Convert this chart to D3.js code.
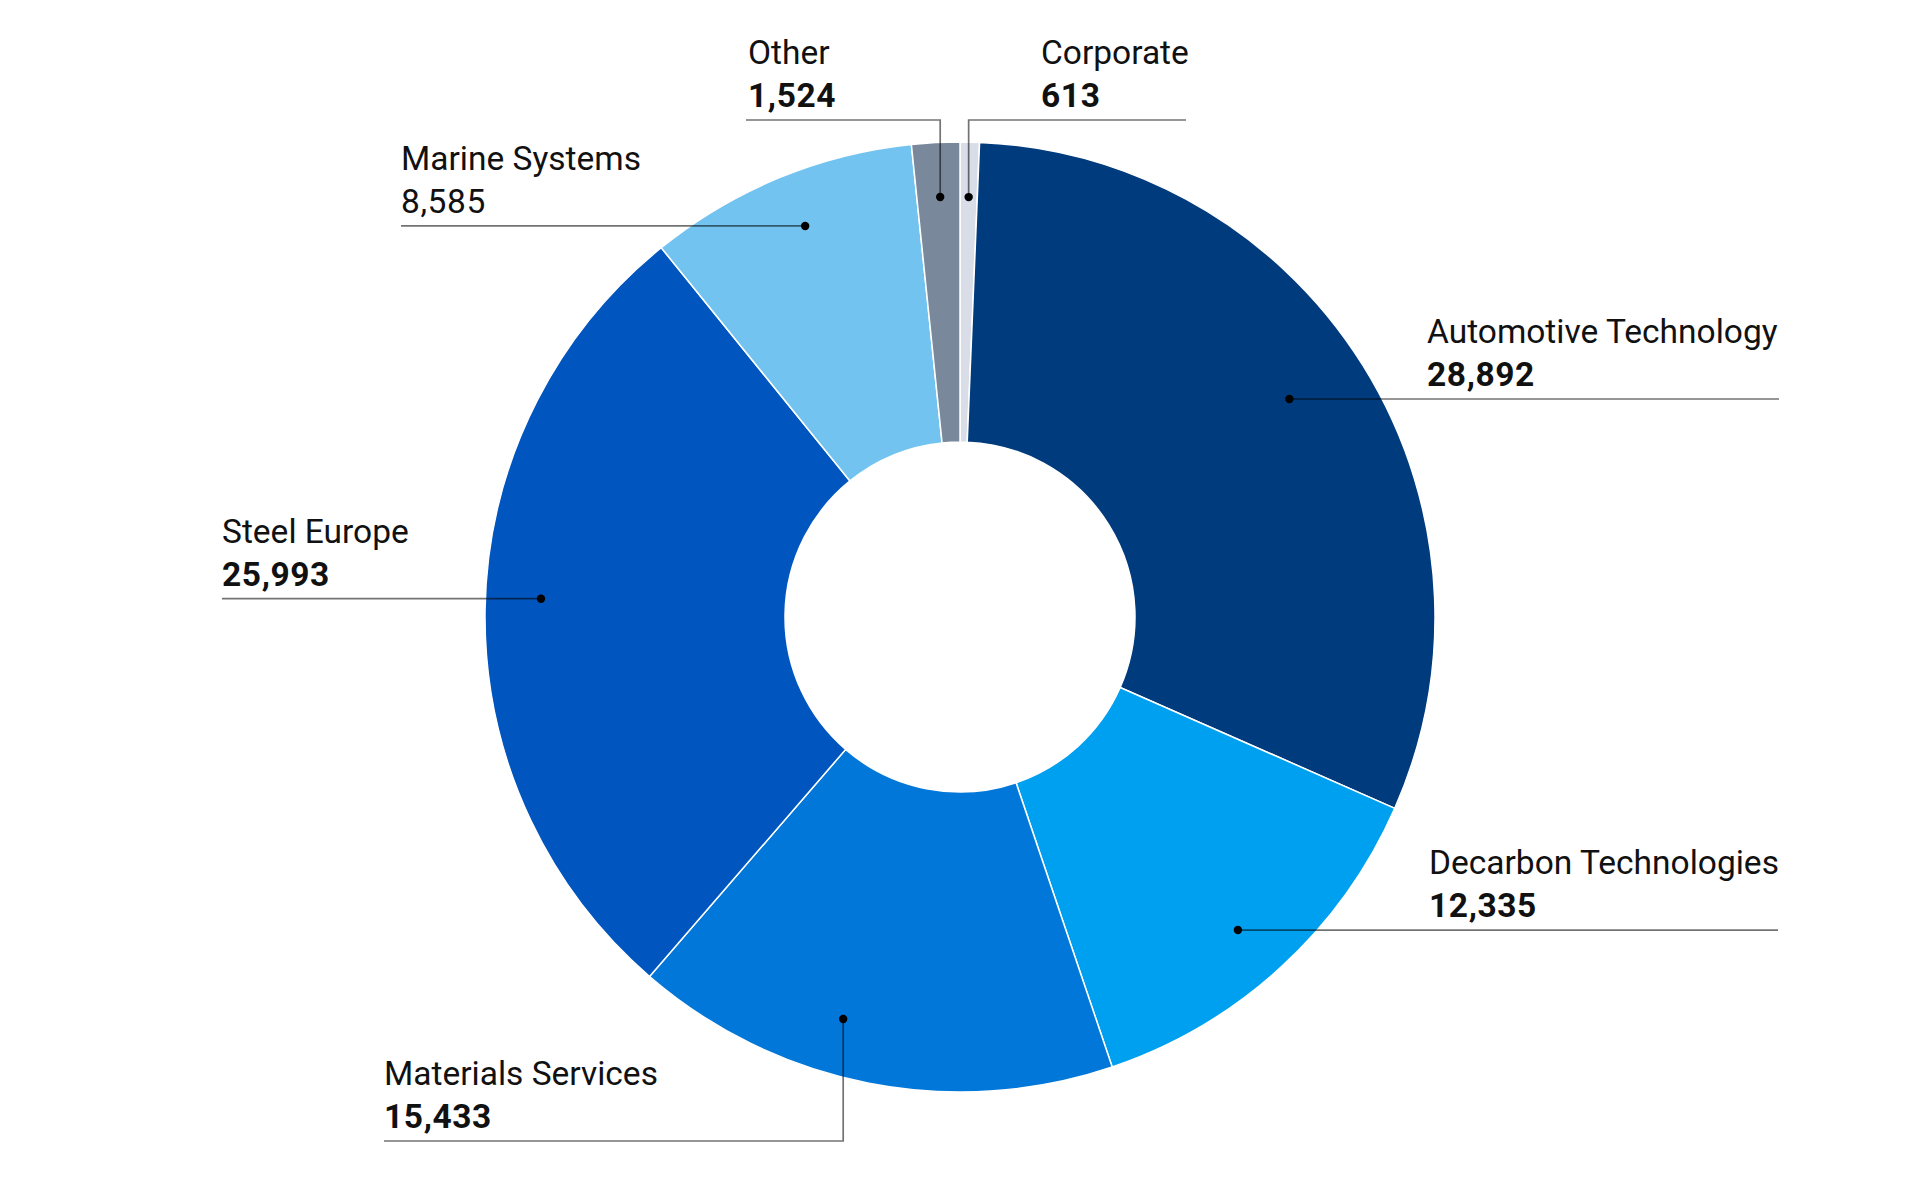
<!DOCTYPE html>
<html>
<head>
<meta charset="utf-8">
<script src="https://cdn.jsdelivr.net/npm/d3@7/dist/d3.min.js"></script>
<style>
  html, body { margin: 0; padding: 0; background: #ffffff; }
  svg { display: block; }
  text { font-family: Roboto, "Noto Sans", sans-serif; fill: #111111; }
</style>
</head>
<body>
<svg id="chart" width="1920" height="1177"></svg>
<script>
// ---- data ----
const categories = ["Corporate", "Automotive Technology", "Decarbon Technologies", "Materials Services", "Steel Europe", "Marine Systems", "Other"];
const values = [613, 28892, 12335, 15433, 25993, 8585, 1524];

// ---- style ----
const colors = ["#d9dde8", "#003b7d", "#00a0f0", "#0077d9", "#0055bf", "#73c3f0", "#7a889c"];
const valueWeight = [700, 700, 700, 700, 700, 400, 700];

// ---- label layout (annotation placement) ----
// anchor: angle (deg, clockwise from top) and radius of the leader dot
// elbowY: y of the horizontal label line when the leader is bent (null = straight line at dot height)
// lineEndX: where the horizontal label line ends; textX: left edge of the label text
const labelLayout = [
  { angle: 1.18,  r: 420,   elbowY: 120,  lineEndX: 1186, textX: 1041 },
  { angle: 56.5,  r: 395,   elbowY: null, lineEndX: 1779, textX: 1427 },
  { angle: 138.4, r: 418.6, elbowY: null, lineEndX: 1778, textX: 1429 },
  { angle: 196.2, r: 418.7, elbowY: 1141, lineEndX: 384,  textX: 384 },
  { angle: 272.5, r: 419.4, elbowY: null, lineEndX: 222,  textX: 222 },
  { angle: 338.4, r: 420.6, elbowY: null, lineEndX: 401,  textX: 401 },
  { angle: 357.3, r: 420.5, elbowY: 120,  lineEndX: 746,  textX: 748 }
];

const width = 1920, height = 1177;
const cx = 960, cy = 617;
const outerR = 475, innerR = 175;

const data = categories.map((c, i) => ({ name: c, value: values[i], color: colors[i], weight: valueWeight[i], layout: labelLayout[i] }));

const svg = d3.select("#chart");
const g = svg.append("g").attr("transform", `translate(${cx},${cy})`);

const pie = d3.pie().sort(null).value(d => d.value).startAngle(0).endAngle(2 * Math.PI);
const arc = d3.arc().innerRadius(innerR).outerRadius(outerR);

g.selectAll("path.slice")
  .data(pie(data))
  .join("path")
  .attr("class", "slice")
  .attr("d", arc)
  .attr("fill", d => d.data.color)
  .attr("stroke", "#ffffff")
  .attr("stroke-width", 1.5);

const fmt = d3.format(",");

// leader lines, dots and labels
const labels = g.append("g");
data.forEach(d => {
  const L = d.layout;
  const [dx, dy] = d3.pointRadial(L.angle * Math.PI / 180, L.r);
  const lineY = L.elbowY === null ? dy : L.elbowY - cy;
  const endX = L.lineEndX - cx;
  const pts = L.elbowY === null
    ? [[dx, dy], [endX, lineY]]
    : [[dx, dy], [dx, lineY], [endX, lineY]];
  labels.append("path")
    .attr("d", d3.line()(pts))
    .attr("fill", "none")
    .attr("stroke", "#000000")
    .attr("stroke-opacity", 0.55)
    .attr("stroke-width", 1.7);
  labels.append("circle")
    .attr("cx", dx).attr("cy", dy).attr("r", 4.2)
    .attr("fill", "#000000");
  const tx = L.textX - cx;
  labels.append("text")
    .attr("x", tx).attr("y", lineY - 56)
    .attr("font-size", 33.5)
    .attr("font-weight", 400)
    .text(d.name);
  labels.append("text")
    .attr("x", tx).attr("y", lineY - 13)
    .attr("font-size", 33.5)
    .attr("font-weight", d.weight)
    .attr("letter-spacing", 0.6)
    .text(fmt(d.value));
});
</script>
</body>
</html>
